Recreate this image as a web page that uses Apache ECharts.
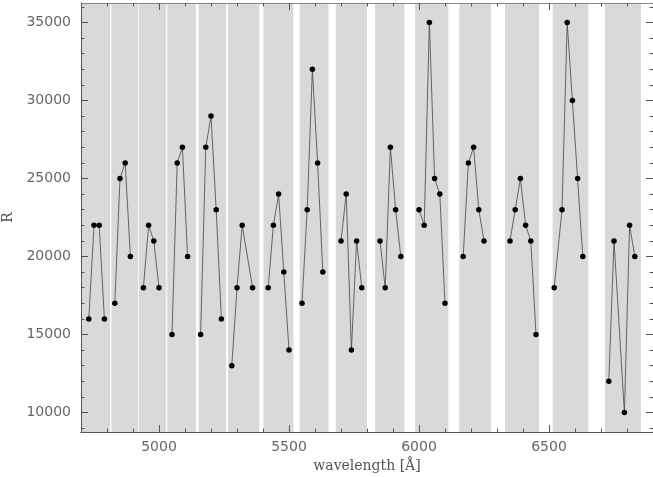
<!DOCTYPE html>
<html>
<head>
<meta charset="utf-8">
<script src="https://cdn.jsdelivr.net/npm/echarts@6/dist/echarts.min.js"></script>
<style>
  html, body { margin: 0; padding: 0; background: #ffffff; }
  #chart { width: 653px; height: 477px; }
</style>
</head>
<body>
<div id="chart"></div>
<script>
// Resolving power R measured along the spectrum, in separate wavelength segments
const wavelength = [
  4730, 4750, 4770, 4790,
  4830, 4850, 4870, 4890,
  4940, 4960, 4980, 5000,
  5050, 5070, 5090, 5110,
  5160, 5180, 5200, 5220, 5240,
  5280, 5300, 5320, 5360,
  5420, 5440, 5460, 5480, 5500,
  5550, 5570, 5590, 5610, 5630,
  5700, 5720, 5740, 5760, 5780,
  5850, 5870, 5890, 5910, 5930,
  6000, 6020, 6040, 6060, 6080, 6100,
  6170, 6190, 6210, 6230, 6250,
  6350, 6370, 6390, 6410, 6430, 6450,
  6520, 6550, 6570, 6590, 6610, 6630,
  6730, 6750, 6790, 6810, 6830
];
const resolution = [
  16000, 22000, 22000, 16000,
  17000, 25000, 26000, 20000,
  18000, 22000, 21000, 18000,
  15000, 26000, 27000, 20000,
  15000, 27000, 29000, 23000, 16000,
  13000, 18000, 22000, 18000,
  18000, 22000, 24000, 19000, 14000,
  17000, 23000, 32000, 26000, 19000,
  21000, 24000, 14000, 21000, 18000,
  21000, 18000, 27000, 23000, 20000,
  23000, 22000, 35000, 25000, 24000, 17000,
  20000, 26000, 27000, 23000, 21000,
  21000, 23000, 25000, 22000, 21000, 15000,
  18000, 23000, 35000, 30000, 25000, 20000,
  12000, 21000, 10000, 22000, 20000
];
// number of consecutive points in each connected segment
const segmentSizes = [4, 4, 4, 4, 5, 4, 5, 5, 5, 5, 6, 5, 6, 6, 5];

// shaded wavelength windows
const bandStart = [4700, 4817, 4922, 5032, 5152, 5265, 5402, 5541, 5680, 5831, 5985, 6155, 6331, 6514, 6715];
const bandEnd   = [4812, 4919, 5028, 5142, 5258, 5386, 5517, 5652, 5800, 5944, 6113, 6277, 6462, 6651, 6854];

const xTickLabels = [5000, 5500, 6000, 6500];
const yTickLabels = [10000, 15000, 20000, 25000, 30000, 35000];

const X_MIN = 4700, X_MAX = 6900;
const Y_MIN = 8750, Y_MAX = 36250;

const xMinorTicks = [];
for (let v = 4800; v <= 6800; v += 100) xMinorTicks.push(v);
const yMinorTicks = [];
for (let v = 9000; v <= 36000; v += 1000) yMinorTicks.push(v);

const tickColor = '#555555';
const labelFont = { fontFamily: 'DejaVu Sans', fontSize: 14, color: '#666666' };
const nameFont = { fontFamily: 'DejaVu Serif', fontSize: 14, color: '#555555' };

const gridBox = { left: 81, right: 0, top: 3, bottom: 45, containLabel: false, outerBoundsMode: 'none' };

function xAx(gridIndex, position, ticks, len, extra) {
  return Object.assign({
    type: 'value', gridIndex, position, min: X_MIN, max: X_MAX, z: 5,
    axisLine: { show: true, lineStyle: { color: tickColor, width: 1 } },
    axisTick: { show: true, inside: true, length: len, customValues: ticks, lineStyle: { color: tickColor, width: 1 } },
    axisLabel: { show: false },
    splitLine: { show: false }
  }, extra || {});
}
function yAx(gridIndex, position, ticks, len, extra) {
  return Object.assign({
    type: 'value', gridIndex, position, min: Y_MIN, max: Y_MAX, z: 5,
    axisLine: { show: true, lineStyle: { color: tickColor, width: 1 } },
    axisTick: { show: true, inside: true, length: len, customValues: ticks, lineStyle: { color: tickColor, width: 1 } },
    axisLabel: { show: false },
    splitLine: { show: false }
  }, extra || {});
}

const series = [];
// shaded windows
series.push({
  type: 'line', xAxisIndex: 0, yAxisIndex: 0, data: [], z: 1, silent: true,
  markArea: {
    silent: true,
    itemStyle: { color: '#d9d9d9' },
    data: bandStart.map((s, i) => [{ xAxis: s }, { xAxis: bandEnd[i] }])
  }
});
// one line per segment
let k = 0;
segmentSizes.forEach(n => {
  const pts = [];
  for (let i = 0; i < n; i++, k++) pts.push([wavelength[k], resolution[k]]);
  series.push({
    type: 'line', xAxisIndex: 0, yAxisIndex: 0, z: 3,
    data: pts,
    symbol: 'circle', symbolSize: 5.5,
    itemStyle: { color: '#000000' },
    lineStyle: { color: '#444444', width: 0.8 }
  });
});

const chart = echarts.init(document.getElementById('chart'), null, { renderer: 'canvas' });
chart.setOption({
  animation: false,
  backgroundColor: '#ffffff',
  grid: [Object.assign({}, gridBox), Object.assign({}, gridBox)],
  xAxis: [
    xAx(0, 'bottom', xTickLabels, 7, {
      axisLabel: Object.assign({ show: true, customValues: xTickLabels, margin: 8, formatter: v => String(v) }, labelFont),
      name: 'wavelength [Å]', nameLocation: 'middle', nameGap: 21, nameTextStyle: nameFont
    }),
    xAx(0, 'top', xTickLabels, 7, { axisLine: { show: true, lineStyle: { color: '#888888', width: 1 } } }),
    xAx(1, 'bottom', xMinorTicks, 3.5),
    xAx(1, 'top', xMinorTicks, 3.5, { axisLine: { show: false } })
  ],
  yAxis: [
    yAx(0, 'left', yTickLabels, 7, {
      axisLabel: Object.assign({ show: true, customValues: yTickLabels, margin: 10, formatter: v => String(v) }, labelFont),
      name: 'R', nameLocation: 'middle', nameGap: 64, nameRotate: 90, nameTextStyle: nameFont
    }),
    yAx(0, 'right', yTickLabels, 7),
    yAx(1, 'left', yMinorTicks, 3.5),
    yAx(1, 'right', yMinorTicks, 3.5, { axisLine: { show: false } })
  ],
  series: series
});
</script>
</body>
</html>
